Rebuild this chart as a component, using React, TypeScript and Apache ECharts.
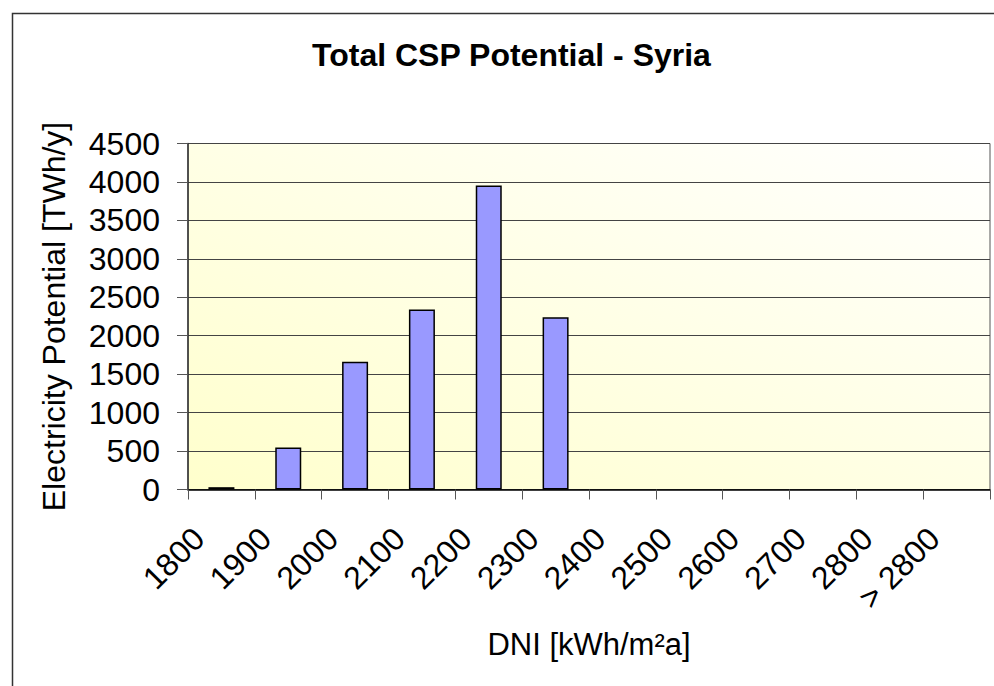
import React, { useEffect, useRef } from "react";
import * as echarts from "echarts";

const categories = ["1800", "1900", "2000", "2100", "2200", "2300", "2400", "2500", "2600", "2700", "2800", "> 2800"];
const potential = [30, 545, 1660, 2340, 3955, 2240, 0, 0, 0, 0, 0, 0];
const yMin = 0;
const yMax = 4500;
const yStep = 500;

const titleText = "Total CSP Potential - Syria";
const xName = "DNI [kWh/m²a]";
const yName = "Electricity Potential [TWh/y]";

const FONT = 'Arial, "Liberation Sans", Helvetica, sans-serif';
const FS = 32;

export default function App() {
  const ref = useRef<HTMLDivElement>(null);
  useEffect(() => {
    if (!ref.current) return;
    const chart = echarts.init(ref.current, null, { renderer: "svg" });
    chart.setOption({
      animation: false,
      backgroundColor: "#ffffff",
      textStyle: { fontFamily: FONT },
      title: {
        text: titleText,
        left: 312,
        top: 39,
        padding: 0,
        textStyle: { fontFamily: FONT, fontSize: FS, fontWeight: "bold", color: "#000" },
      },
      graphic: [
        {
          type: "rect",
          left: 10,
          top: 11,
          shape: { x: 0, y: 0, width: 1000, height: 700 },
          style: { fill: "none", stroke: "#333", lineWidth: 1.5 },
          silent: true,
        },
      ],
      grid: {
        left: 188,
        right: 4,
        top: 143.5,
        bottom: 196.5,
        show: true,
        borderColor: "#555",
        borderWidth: 1,
        backgroundColor: new echarts.graphic.LinearGradient(0, 1, 1, 0, [
          { offset: 0, color: "#FFFFCC" },
          { offset: 1, color: "#FFFFFF" },
        ]),
      },
      xAxis: {
        type: "category",
        data: categories,
        name: xName,
        nameLocation: "middle",
        nameGap: 139,
        nameTextStyle: { fontFamily: FONT, fontSize: 31, color: "#000" },
        axisLine: { lineStyle: { color: "#000", width: 1.5 } },
        axisTick: { show: true, length: 10, lineStyle: { color: "#555" } },
        axisLabel: {
          rotate: 45,
          margin: 21,
          padding: [0, 32, 0, 0],
          fontFamily: FONT,
          fontSize: FS,
          color: "#000",
          interval: 0,
        },
      },
      yAxis: {
        type: "value",
        min: yMin,
        max: yMax,
        interval: yStep,
        name: yName,
        nameLocation: "middle",
        nameGap: 118,
        nameTextStyle: { fontFamily: FONT, fontSize: FS, color: "#000" },
        axisLine: { show: true, lineStyle: { color: "#333", width: 1.5 } },
        axisTick: { show: true, length: 11, lineStyle: { color: "#555" } },
        axisLabel: {
          margin: 28,
          fontFamily: FONT,
          fontSize: FS,
          color: "#000",
          formatter: (v: number) => String(v),
        },
        splitLine: { show: true, lineStyle: { color: "#444", width: 1 } },
      },
      series: [
        {
          type: "bar",
          data: potential.map((v) => (v === 0 ? null : v)),
          barWidth: 26,
          itemStyle: { color: "#9999FF", borderColor: "#000", borderWidth: 1.5 },
        },
      ],
    });
    return () => chart.dispose();
  }, []);
  return <div ref={ref} style={{ position: "absolute", left: 0, top: 0, width: 994, height: 686 }} />;
}
